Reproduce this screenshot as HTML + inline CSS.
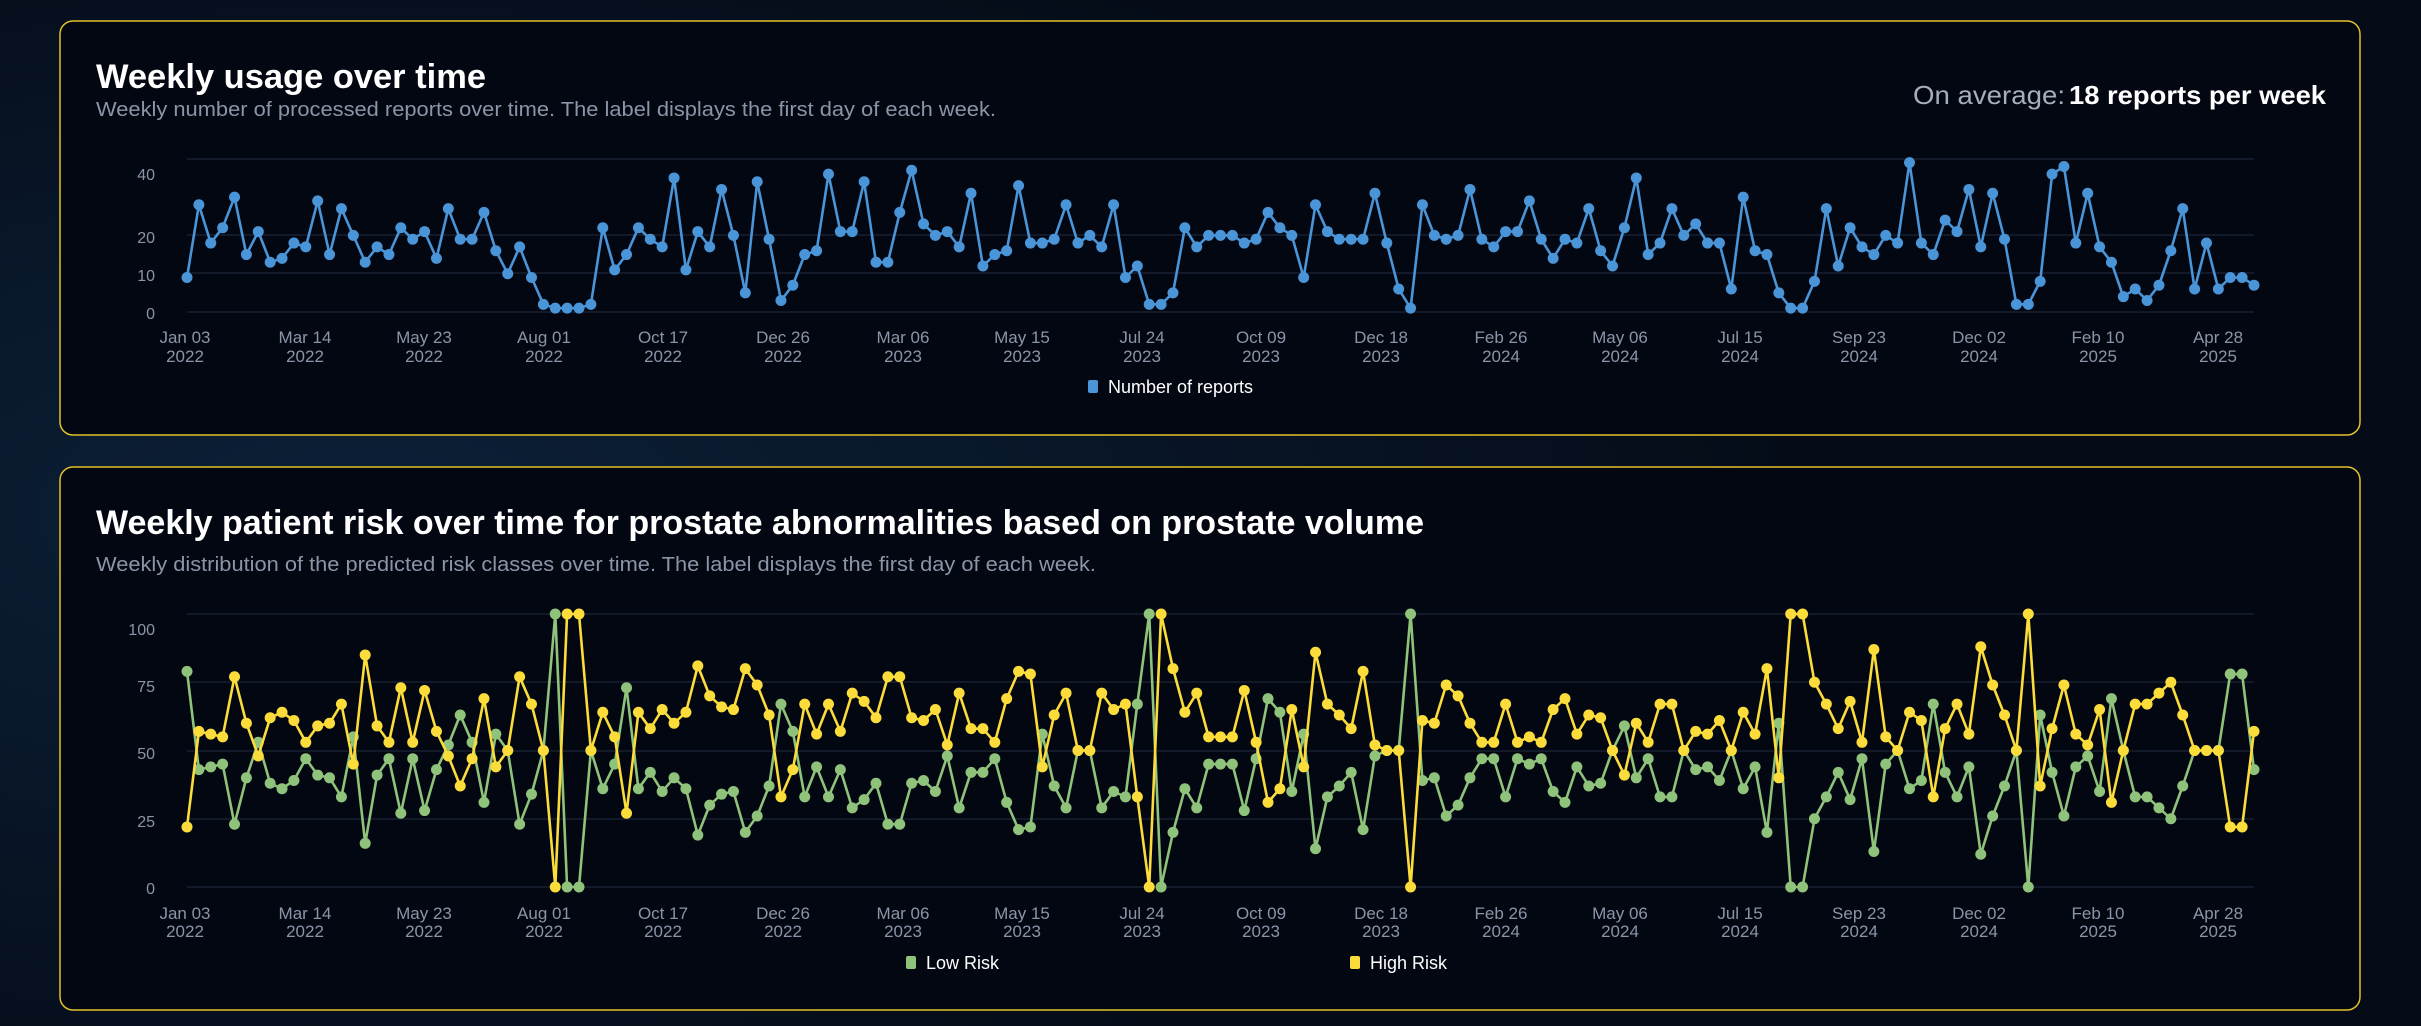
<!DOCTYPE html>
<html><head><meta charset="utf-8"><style>
html,body{margin:0;padding:0;width:2421px;height:1026px;overflow:hidden;background:#06101e;}
svg{display:block}
text{font-family:"Liberation Sans",sans-serif;}
</style></head><body>
<svg id="s" width="2421" height="1026" viewBox="0 0 2421 1026" xmlns="http://www.w3.org/2000/svg">
<defs>
<radialGradient id="bg1" cx="0.15" cy="0.5" r="0.6"><stop offset="0" stop-color="#0c2038"/><stop offset="1" stop-color="#050c18"/></radialGradient>
</defs>
<rect width="2421" height="1026" fill="url(#bg1)"/>
<rect x="60" y="21" width="2300" height="414" rx="13" fill="#020711" stroke="#e2c229" stroke-width="1.5"/>
<rect x="60" y="467" width="2300" height="543" rx="13" fill="#020711" stroke="#e2c229" stroke-width="1.5"/>

<text x="96" y="88" font-size="34" font-weight="bold" fill="#ffffff" textLength="390" lengthAdjust="spacingAndGlyphs">Weekly usage over time</text>
<text x="96" y="116" font-size="20" fill="#8c95a8" textLength="900" lengthAdjust="spacingAndGlyphs">Weekly number of processed reports over time. The label displays the first day of each week.</text>
<text x="1913" y="104" font-size="26" fill="#a6adbb" textLength="152" lengthAdjust="spacingAndGlyphs">On average:</text>
<text x="2069" y="104" font-size="26" font-weight="bold" fill="#ffffff" textLength="257" lengthAdjust="spacingAndGlyphs">18 reports per week</text>

<text x="96" y="534" font-size="34" font-weight="bold" fill="#ffffff" textLength="1328" lengthAdjust="spacingAndGlyphs">Weekly patient risk over time for prostate abnormalities based on prostate volume</text>
<text x="96" y="571" font-size="20" fill="#8c95a8" textLength="1000" lengthAdjust="spacingAndGlyphs">Weekly distribution of the predicted risk classes over time. The label displays the first day of each week.</text>

<g stroke="#172133" stroke-width="1.5">
<line x1="187" y1="159" x2="2254" y2="159"/><line x1="187" y1="235" x2="2254" y2="235"/><line x1="187" y1="273" x2="2254" y2="273"/><line x1="187" y1="312" x2="2254" y2="312"/>
<line x1="187" y1="614" x2="2254" y2="614"/><line x1="187" y1="682" x2="2254" y2="682"/><line x1="187" y1="751" x2="2254" y2="751"/><line x1="187" y1="819" x2="2254" y2="819"/><line x1="187" y1="887" x2="2254" y2="887"/>
</g>
<g font-size="16" fill="#8c95a8" text-anchor="end">
<text x="155" y="180">40</text><text x="155" y="243">20</text><text x="155" y="281">10</text><text x="155" y="319">0</text>
<text x="155" y="635">100</text><text x="155" y="692">75</text><text x="155" y="759">50</text><text x="155" y="827">25</text><text x="155" y="894">0</text>
</g>
<g id="xl" font-size="17" fill="#8c95a8" text-anchor="middle"></g>

<g id="c1"></g><g id="c2"></g>

<rect x="1088" y="380" width="10" height="13" rx="2" fill="#4a94d8"/>
<text x="1108" y="393" font-size="18" fill="#ffffff">Number of reports</text>
<rect x="906" y="956" width="10" height="13" rx="2" fill="#8fc27a"/>
<text x="926" y="969" font-size="18" fill="#ffffff">Low Risk</text>
<rect x="1350" y="956" width="10" height="13" rx="2" fill="#fbdc3b"/>
<text x="1370" y="969" font-size="18" fill="#ffffff">High Risk</text>

<g font-size="17" fill="#8c95a8" text-anchor="middle">
<text x="185" y="343">Jan 03</text><text x="185" y="362">2022</text>
<text x="305" y="343">Mar 14</text><text x="305" y="362">2022</text>
<text x="424" y="343">May 23</text><text x="424" y="362">2022</text>
<text x="544" y="343">Aug 01</text><text x="544" y="362">2022</text>
<text x="663" y="343">Oct 17</text><text x="663" y="362">2022</text>
<text x="783" y="343">Dec 26</text><text x="783" y="362">2022</text>
<text x="903" y="343">Mar 06</text><text x="903" y="362">2023</text>
<text x="1022" y="343">May 15</text><text x="1022" y="362">2023</text>
<text x="1142" y="343">Jul 24</text><text x="1142" y="362">2023</text>
<text x="1261" y="343">Oct 09</text><text x="1261" y="362">2023</text>
<text x="1381" y="343">Dec 18</text><text x="1381" y="362">2023</text>
<text x="1501" y="343">Feb 26</text><text x="1501" y="362">2024</text>
<text x="1620" y="343">May 06</text><text x="1620" y="362">2024</text>
<text x="1740" y="343">Jul 15</text><text x="1740" y="362">2024</text>
<text x="1859" y="343">Sep 23</text><text x="1859" y="362">2024</text>
<text x="1979" y="343">Dec 02</text><text x="1979" y="362">2024</text>
<text x="2098" y="343">Feb 10</text><text x="2098" y="362">2025</text>
<text x="2218" y="343">Apr 28</text><text x="2218" y="362">2025</text>

<text x="185" y="919">Jan 03</text><text x="185" y="937">2022</text>
<text x="305" y="919">Mar 14</text><text x="305" y="937">2022</text>
<text x="424" y="919">May 23</text><text x="424" y="937">2022</text>
<text x="544" y="919">Aug 01</text><text x="544" y="937">2022</text>
<text x="663" y="919">Oct 17</text><text x="663" y="937">2022</text>
<text x="783" y="919">Dec 26</text><text x="783" y="937">2022</text>
<text x="903" y="919">Mar 06</text><text x="903" y="937">2023</text>
<text x="1022" y="919">May 15</text><text x="1022" y="937">2023</text>
<text x="1142" y="919">Jul 24</text><text x="1142" y="937">2023</text>
<text x="1261" y="919">Oct 09</text><text x="1261" y="937">2023</text>
<text x="1381" y="919">Dec 18</text><text x="1381" y="937">2023</text>
<text x="1501" y="919">Feb 26</text><text x="1501" y="937">2024</text>
<text x="1620" y="919">May 06</text><text x="1620" y="937">2024</text>
<text x="1740" y="919">Jul 15</text><text x="1740" y="937">2024</text>
<text x="1859" y="919">Sep 23</text><text x="1859" y="937">2024</text>
<text x="1979" y="919">Dec 02</text><text x="1979" y="937">2024</text>
<text x="2098" y="919">Feb 10</text><text x="2098" y="937">2025</text>
<text x="2218" y="919">Apr 28</text><text x="2218" y="937">2025</text>
</g>
</svg>
<script>
var r=[9,28,18,22,30,15,21,13,14,18,17,29,15,27,20,13,17,15,22,19,21,14,27,19,19,26,16,10,17,9,2,1,1,1,2,22,11,15,22,19,17,35,11,21,17,32,20,5,34,19,3,7,15,16,36,21,21,34,13,13,26,37,23,20,21,17,31,12,15,16,33,18,18,19,28,18,20,17,28,9,12,2,2,5,22,17,20,20,20,18,19,26,22,20,9,28,21,19,19,19,31,18,6,1,28,20,19,20,32,19,17,21,21,29,19,14,19,18,27,16,12,22,35,15,18,27,20,23,18,18,6,30,16,15,5,1,1,8,27,12,22,17,15,20,18,39,18,15,24,21,32,17,31,19,2,2,8,36,38,18,31,17,13,4,6,3,7,16,27,6,18,6,9,9,7];
var h=[22,57,56,55,77,60,48,62,64,61,53,59,60,67,45,85,59,53,73,53,72,57,48,37,47,69,44,50,77,67,50,0,100,100,50,64,55,27,64,58,65,60,64,81,70,66,65,80,74,63,33,43,67,56,67,57,71,68,62,77,77,62,61,65,52,71,58,58,53,69,79,78,44,63,71,50,50,71,65,67,33,0,100,80,64,71,55,55,55,72,53,31,36,65,44,86,67,63,58,79,52,50,50,0,61,60,74,70,60,53,53,67,53,55,53,65,69,56,63,62,50,41,60,53,67,67,50,57,56,61,50,64,56,80,40,100,100,75,67,58,68,53,87,55,50,64,61,33,58,67,56,88,74,63,50,100,37,58,74,56,52,65,31,50,67,67,71,75,63,50,50,50,22,22,57];
var gOver={6:53,14:55,15:16,28:23,29:34,30:50,34:50,75:50,76:50};
var N=r.length,x0=187,dx=(2254-187)/(N-1),ns="http://www.w3.org/2000/svg";
function X(i){return x0+i*dx;}
function draw(g,vals,yf,col){
 var pts=vals.map(function(v,i){return X(i).toFixed(1)+","+yf(v).toFixed(1)}).join(" ");
 var pl=document.createElementNS(ns,"polyline");pl.setAttribute("points",pts);pl.setAttribute("fill","none");pl.setAttribute("stroke",col);pl.setAttribute("stroke-width","2.6");pl.setAttribute("stroke-linejoin","round");g.appendChild(pl);
 vals.forEach(function(v,i){var c=document.createElementNS(ns,"circle");c.setAttribute("cx",X(i));c.setAttribute("cy",yf(v));c.setAttribute("r","5.5");c.setAttribute("fill",col);g.appendChild(c);});
}
draw(document.getElementById("c1"),r,function(v){return 312-v*3.83},"#4a94d8");
var lo=h.map(function(v,i){return gOver[i]!==undefined?gOver[i]:100-v;});
lo[0]=79;
var y2=function(v){return 887-v*2.73};
draw(document.getElementById("c2"),lo,y2,"#8fc27a");
draw(document.getElementById("c2"),h,y2,"#fbdc3b");
</script>
</body></html>
